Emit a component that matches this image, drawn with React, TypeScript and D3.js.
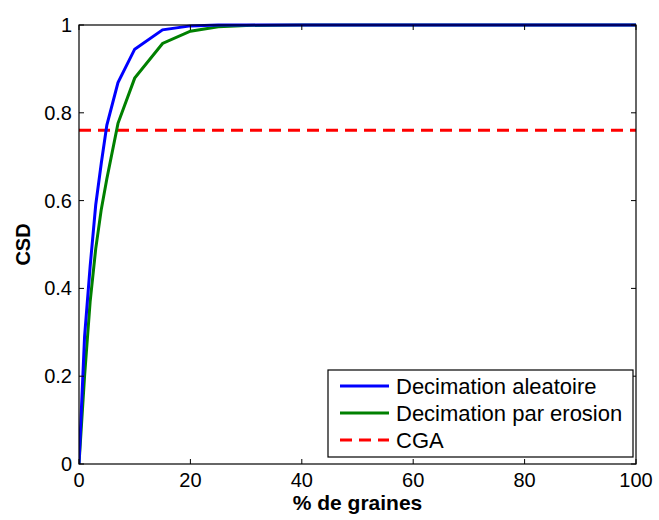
import React from "react";
import * as d3 from "d3";

const xValues = [0, 1, 2, 3, 4, 5, 7, 10, 15, 20, 25, 30, 40, 50, 60, 70, 80, 90, 100];
const aleatoire = [0, 0.29, 0.45, 0.59, 0.685, 0.772, 0.869, 0.945, 0.989, 0.998, 1, 1, 1, 1, 1, 1, 1, 1, 1];
const erosion = [0, 0.2, 0.37, 0.49, 0.58, 0.65, 0.776, 0.879, 0.958, 0.986, 0.996, 0.999, 1, 1, 1, 1, 1, 1, 1];
const cgaValue = 0.76;
const xTicks = [0, 20, 40, 60, 80, 100];
const yTicks = [0, 0.2, 0.4, 0.6, 0.8, 1];
const yTickLabels = ["0", "0.2", "0.4", "0.6", "0.8", "1"];
const legendLabels = ["Decimation aleatoire", "Decimation par erosion", "CGA"];
const colors = ["#0000ff", "#008000", "#ff0000"];

const W = 659, H = 520;
const L = 79, R = 636, T = 25, B = 464;
const FONT = "'Liberation Sans', Arial, Helvetica, sans-serif";

export default function App() {
  const x = d3.scaleLinear().domain([0, 100]).range([L, R]);
  const y = d3.scaleLinear().domain([0, 1]).range([B, T]);
  const line = d3.line<[number, number]>().x(d => x(d[0])).y(d => y(d[1]));
  const s1 = xValues.map((v, i) => [v, aleatoire[i]] as [number, number]);
  const s2 = xValues.map((v, i) => [v, erosion[i]] as [number, number]);
  const tick = 5;
  const legX = 328, legY = 370, legW = 305, legH = 87;
  const rowY = [386, 413, 440];
  return (
    <svg width={W} height={H} style={{ position: "absolute", left: 0, top: 0, background: "#fff" }}>
      <rect x={0} y={0} width={W} height={H} fill="#fff" />
      <defs>
        <clipPath id="plot"><rect x={L} y={T - 2} width={R - L} height={B - T + 4} /></clipPath>
      </defs>
      <g clipPath="url(#plot)">
        <line x1={x(0)} x2={x(100)} y1={y(cgaValue)} y2={y(cgaValue)} stroke={colors[2]} strokeWidth={3} strokeDasharray="12,7" />
        <path d={line(s2) || ""} fill="none" stroke={colors[1]} strokeWidth={3} strokeLinejoin="miter" />
        <path d={line(s1) || ""} fill="none" stroke={colors[0]} strokeWidth={3} strokeLinejoin="miter" />
      </g>
      <rect x={L} y={T} width={R - L} height={B - T} fill="none" stroke="#000" strokeWidth={1.2} />
      {xTicks.map(t => (
        <g key={"x" + t}>
          <line x1={x(t)} x2={x(t)} y1={B} y2={B - tick} stroke="#000" />
          <line x1={x(t)} x2={x(t)} y1={T} y2={T + tick} stroke="#000" />
          <text x={x(t)} y={487} textAnchor="middle" fontFamily={FONT} fontSize={20}>{t}</text>
        </g>
      ))}
      {yTicks.map((t, i) => (
        <g key={"y" + t}>
          <line x1={L} x2={L + tick} y1={y(t)} y2={y(t)} stroke="#000" />
          <line x1={R} x2={R - tick} y1={y(t)} y2={y(t)} stroke="#000" />
          <text x={72} y={y(t) + 7} textAnchor="end" fontFamily={FONT} fontSize={20}>{yTickLabels[i]}</text>
        </g>
      ))}
      <text x={(L + R) / 2} y={510} textAnchor="middle" fontFamily={FONT} fontSize={21} fontWeight="bold">% de graines</text>
      <text transform={`translate(30,${(T + B) / 2}) rotate(-90)`} textAnchor="middle" fontFamily={FONT} fontSize={20} fontWeight="bold">CSD</text>
      <rect x={legX} y={legY} width={legW} height={legH} fill="#fff" stroke="#000" strokeWidth={1.2} />
      {legendLabels.map((lab, i) => (
        <g key={lab}>
          <line x1={340} x2={389} y1={rowY[i]} y2={rowY[i]} stroke={colors[i]} strokeWidth={3} strokeDasharray={i === 2 ? "12,7" : undefined} />
          <text x={396} y={rowY[i] + 8} fontFamily={FONT} fontSize={22}>{lab}</text>
        </g>
      ))}
    </svg>
  );
}
